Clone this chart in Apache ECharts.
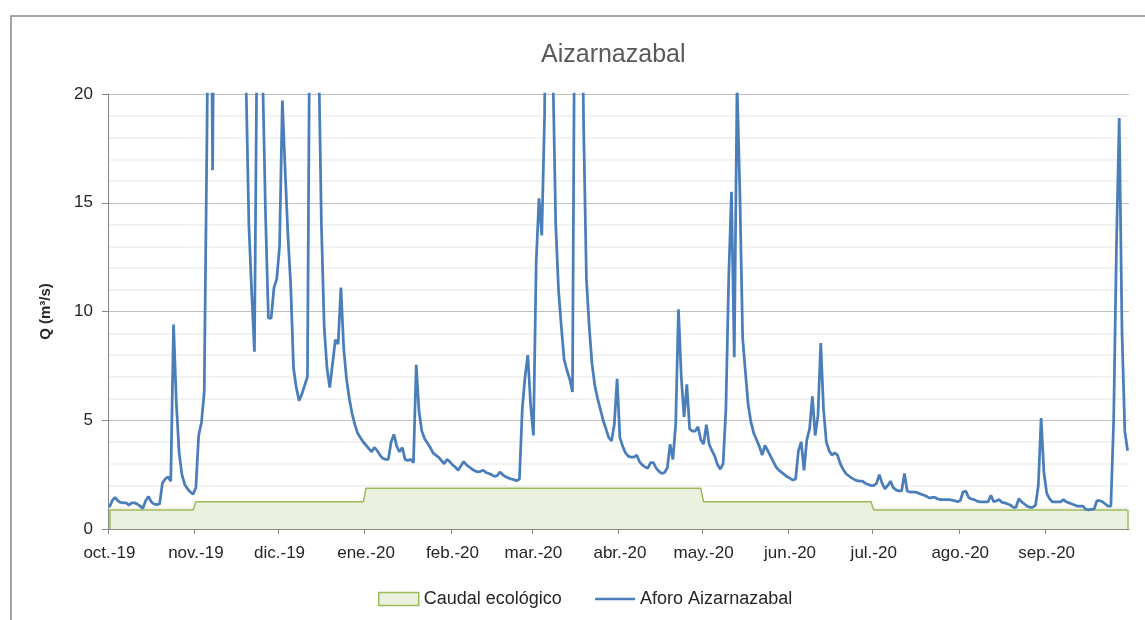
<!DOCTYPE html>
<html>
<head>
<meta charset="utf-8">
<script src="https://cdn.jsdelivr.net/npm/echarts@6/dist/echarts.min.js"></script>
<style>
html,body{margin:0;padding:0;background:#ffffff;}
#chart{width:1145px;height:620px;}
</style>
</head>
<body>
<div id="chart"></div>
<script>
// ---- tick labels / month structure ----
const monthLabels = ['oct.-19','nov.-19','dic.-19','ene.-20','feb.-20','mar.-20','abr.-20','may.-20','jun.-20','jul.-20','ago.-20','sep.-20'];
const monthDays   = [31,30,31,31,29,31,30,31,30,31,31,30];

// ---- Caudal ecológico (m3/s), one value per month ----
const ecoFlowByMonth = [0.87,1.25,1.25,1.87,1.87,1.87,1.87,1.25,1.25,0.87,0.87,0.87];

// ---- Aforo Aizarnazabal, daily flow (m3/s) per month ----
const oct19 = [1.0,1.3,1.45,1.3,1.22,1.2,1.2,1.1,1.2,1.2,1.15,1.05,0.95,1.3,1.5,1.25,1.15,1.12,1.15,2.1,2.3,2.4,2.2,9.4,5.8,3.5,2.5,2.05,1.85,1.7,1.6];
const nov19 = [1.9,4.3,4.9,6.3,18.5,35,16.5,35,40,45,40,38,42,40,36,34,32,30,20.5,14,10.9,8.15,24,40,20.5,14.3,9.7,9.7,11.1,11.5];
const dic19 = [13,19.7,16.5,13.5,11.2,7.4,6.5,5.9,6.2,6.6,7.0,28,40,40,22,14,9.3,7.4,6.5,7.6,8.7,8.5,11.1,8.3,6.9,6.0,5.3,4.8,4.4,4.2,4.0];
const ene20 = [3.85,3.7,3.55,3.75,3.6,3.4,3.25,3.2,3.2,4.0,4.35,3.8,3.55,3.75,3.2,3.15,3.2,3.05,7.55,5.4,4.5,4.15,3.95,3.75,3.5,3.4,3.3,3.15,3.0,3.2,3.1];
const feb20 = [2.95,2.85,2.7,2.9,3.1,2.95,2.85,2.75,2.68,2.62,2.65,2.7,2.6,2.55,2.5,2.42,2.45,2.62,2.5,2.4,2.35,2.3,2.27,2.22,2.3,5.5,7.0,8.0,5.7];
const mar20 = [4.3,12.3,15.2,13.5,19,35,40,21,14,11,9.3,7.8,7.3,6.9,6.3,30,40,30,18.5,11.5,9.3,7.6,6.6,6.0,5.5,5.0,4.6,4.2,4.05,4.8,6.9];
const abr20 = [4.2,3.8,3.5,3.35,3.3,3.3,3.4,3.1,2.95,2.85,2.8,3.05,3.05,2.8,2.65,2.55,2.6,2.8,3.9,3.2,4.8,10.1,7.0,5.15,6.65,4.6,4.5,4.5,4.7,4.1];
const may20 = [3.9,4.8,3.9,3.6,3.35,2.95,2.75,3.0,5.5,11.5,15.5,7.9,20.5,15.5,8.8,7.2,5.7,4.9,4.4,4.1,3.8,3.4,3.85,3.6,3.35,3.1,2.85,2.7,2.6,2.5,2.4];
const jun20 = [2.33,2.25,2.3,3.6,4.0,2.7,4.1,4.6,6.1,4.3,5.2,8.55,5.5,4.0,3.6,3.4,3.5,3.4,3.0,2.75,2.55,2.45,2.35,2.28,2.22,2.2,2.2,2.1,2.05,2.0];
const jul20 = [2.0,2.1,2.5,2.1,1.85,2.0,2.2,1.9,1.8,1.75,1.75,2.55,1.75,1.7,1.7,1.7,1.65,1.6,1.55,1.5,1.42,1.45,1.45,1.38,1.35,1.35,1.35,1.35,1.33,1.3,1.25];
const ago20 = [1.3,1.7,1.75,1.45,1.38,1.35,1.28,1.25,1.25,1.25,1.25,1.55,1.25,1.3,1.35,1.22,1.2,1.15,1.1,1.0,1.0,1.4,1.25,1.15,1.05,1.0,1.0,1.1,2.0,5.1,2.6];
const sep20 = [1.65,1.4,1.25,1.25,1.25,1.25,1.35,1.25,1.2,1.15,1.1,1.05,1.05,1.05,0.9,0.88,0.9,0.92,1.3,1.3,1.25,1.15,1.05,1.05,5.0,13,18.9,9,4.5,3.6];

const flow = [].concat(oct19,nov19,dic19,ene20,feb20,mar20,abr20,may20,jun20,jul20,ago20,sep20);

// categories: one per day from 1 Oct 2019
const categories = [];
for (let i = 0; i < flow.length; i++) {
  const d = new Date(Date.UTC(2019, 9, 1 + i));
  categories.push(d.toISOString().slice(0, 10));
}
const monthStart = {};
const monthStartIdx = [];
const eco = [];
let idx = 0;
monthDays.forEach(function (n, k) {
  monthStart[idx] = monthLabels[k];
  monthStartIdx.push(idx);
  for (let j = 0; j < n; j++) eco.push(ecoFlowByMonth[k]);
  idx += n;
});
const lastCat = categories[categories.length - 1];

const FONT = 'Liberation Sans';
const chart = echarts.init(document.getElementById('chart'), null, {renderer: 'canvas'});
chart.setOption({
  animation: false,
  backgroundColor: '#ffffff',
  textStyle: {fontFamily: FONT},
  title: {
    text: 'Aizarnazabal',
    left: 541, top: 43, padding: 0,
    textStyle: {fontFamily: FONT, fontSize: 25, fontWeight: 'normal', color: '#595959'}
  },
  graphic: [{
    type: 'rect', silent: true, z: -10,
    shape: {x: 11, y: 16, width: 1200, height: 700},
    style: {fill: 'none', stroke: '#868686', lineWidth: 1.5}
  }],
  legend: {
    left: 378, top: 590, padding: 0,
    itemWidth: 40, itemHeight: 13, itemGap: 32,
    textStyle: {fontFamily: FONT, fontSize: 18, color: '#262626'},
    data: [
      {name: 'Caudal ecológico', icon: 'rect', itemStyle: {color: '#ebf1de', borderColor: '#9bbb59', borderWidth: 1.5}},
      {name: 'Aforo Aizarnazabal',
       itemStyle: {color: 'rgba(0,0,0,0)', borderColor: 'rgba(0,0,0,0)', borderWidth: 0},
       lineStyle: {color: '#4a7ebb', width: 2.5}}
    ]
  },
  grid: {left: 108, right: 16, top: 94, bottom: 91, containLabel: false, outerBoundsMode: 'none'},
  xAxis: [{
    type: 'category',
    data: categories,
    boundaryGap: true,
    axisLine: {show: true, lineStyle: {color: '#868686', width: 1}},
    axisTick: {show: false},
    axisLabel: {
      interval: function (i) { return monthStart[i] !== undefined; },
      formatter: function (v, i) { return monthStart[i] || ''; },
      fontFamily: FONT, fontSize: 17, color: '#262626', margin: 16
    },
    splitLine: {show: false}
  }, {
    // day-count axis used only to draw month-boundary ticks
    type: 'value', position: 'bottom',
    min: 0, max: categories.length,
    axisLine: {show: false},
    axisTick: {show: true, length: 5, customValues: monthStartIdx, lineStyle: {color: '#868686'}},
    axisLabel: {show: false},
    splitLine: {show: false}
  }],
  yAxis: {
    type: 'value',
    min: 0, max: 20, interval: 5,
    name: 'Q (m³/s)',
    nameLocation: 'middle', nameRotate: 90, nameGap: 55,
    nameTextStyle: {fontFamily: FONT, fontSize: 15, fontWeight: 'bold', color: '#262626'},
    axisLine: {show: true, lineStyle: {color: '#868686', width: 1}},
    axisTick: {show: true, length: 6, lineStyle: {color: '#868686'}},
    axisLabel: {fontFamily: FONT, fontSize: 17, color: '#262626', margin: 15},
    splitLine: {show: true, lineStyle: {color: '#bfbfbf', width: 1}},
    minorTick: {show: false, splitNumber: 5},
    minorSplitLine: {show: true, lineStyle: {color: '#eeeeee', width: 1.5}}
  },
  series: [
    {
      name: 'Caudal ecológico', type: 'line', data: eco,
      xAxisIndex: 0,
      symbol: 'none', showSymbol: false, z: 1,
      itemStyle: {color: '#9bbb59'},
      lineStyle: {color: '#9bbb59', width: 1.5},
      areaStyle: {color: '#ebf1de', opacity: 1},
      markLine: {
        silent: true, symbol: 'none', label: {show: false},
        lineStyle: {color: '#9bbb59', width: 1.5, type: 'solid'},
        data: [
          [{coord: [categories[0], 0]}, {coord: [categories[0], eco[0]]}],
          [{coord: [lastCat, 0]}, {coord: [lastCat, eco[eco.length - 1]]}]
        ]
      }
    },
    {
      name: 'Aforo Aizarnazabal', type: 'line', data: flow,
      xAxisIndex: 0,
      symbol: 'none', showSymbol: false, clip: true, z: 3,
      itemStyle: {color: '#4a7ebb'},
      lineStyle: {color: '#4a7ebb', width: 2.75}
    }
  ]
});
</script>
</body>
</html>
